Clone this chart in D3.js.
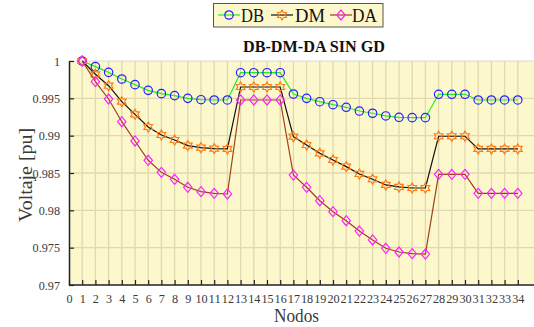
<!DOCTYPE html>
<html><head><meta charset="utf-8">
<script src="https://cdn.jsdelivr.net/npm/d3@7"></script>
<style>body{margin:0;background:#fff}svg{display:block}</style>
</head><body>
<script>
const nodes = d3.range(1, 35);
const xTicks = d3.range(0, 35);
const yTicks = [0.97, 0.975, 0.98, 0.985, 0.99, 0.995, 1];
const seriesNames = ["DB", "DM", "DA"];
const DB = [1, 0.99924, 0.99848, 0.99759, 0.99683, 0.99607, 0.99563, 0.99536, 0.99500, 0.99482, 0.99478, 0.99478,
  0.99843, 0.99843, 0.99843, 0.99843, 0.99558, 0.99500, 0.99455, 0.99415, 0.99380, 0.99330, 0.99300, 0.99264,
  0.99246, 0.99241, 0.99241, 0.99554, 0.99554, 0.99554, 0.99478, 0.99478, 0.99478, 0.99478];
const DM = [1, 0.99822, 0.99669, 0.99455, 0.99286, 0.99116, 0.99009, 0.98942, 0.98866, 0.98839, 0.98826, 0.98822,
  0.99652, 0.99652, 0.99652, 0.99652, 0.98986, 0.98875, 0.98764, 0.98674, 0.98585, 0.98487, 0.98416, 0.98340,
  0.98313, 0.98299, 0.98299, 0.98992, 0.98992, 0.98992, 0.98822, 0.98822, 0.98822, 0.98822];
const DA = [1, 0.99723, 0.99491, 0.99187, 0.98929, 0.98670, 0.98509, 0.98416, 0.98309, 0.98250, 0.98228, 0.98219,
  0.99478, 0.99478, 0.99478, 0.99478, 0.98473, 0.98309, 0.98129, 0.97982, 0.97861, 0.97723, 0.97603, 0.97492,
  0.97442, 0.97420, 0.97415, 0.98482, 0.98482, 0.98482, 0.98228, 0.98228, 0.98228, 0.98228];

const W = 534, H = 327;
const m = {l: 69, t: 61, r: 1, b: 42};
const svg = d3.select("body").append("svg").attr("width", W).attr("height", H);
const x = d3.scaleLinear().domain([0, 35]).range([m.l, 531]);
const y = d3.scaleLinear().domain([0.97, 1]).range([H - m.b, m.t]);
const font = '"Liberation Serif", "Times New Roman", Tinos, "Nimbus Roman", "FreeSerif", "Noto Serif", "DejaVu Serif", serif';
const bg = "#fdf7cc";

// squeeze text to the reference width, whatever font is available
function fit(sel, w) {
  sel.attr("textLength", w).attr("lengthAdjust", "spacingAndGlyphs");
}
const numW = s => s.replace(/\./g, "").length * 6.1 + (s.split(".").length - 1) * 3;

svg.append("rect").attr("x", m.l).attr("y", m.t).attr("width", W - m.l).attr("height", y(0.97) - m.t)
  .attr("fill", bg);
svg.append("line").attr("x1", m.l).attr("x2", W).attr("y1", m.t).attr("y2", m.t).attr("stroke", "#d8d8d8");

// grid
svg.append("g").selectAll("line").data(xTicks.slice(1)).join("line")
  .attr("x1", d => x(d)).attr("x2", d => x(d)).attr("y1", m.t).attr("y2", y(0.97))
  .attr("stroke", "#e0d8b0").attr("stroke-width", 1.3);
svg.append("g").selectAll("line").data(yTicks.slice(1, -1)).join("line")
  .attr("x1", m.l).attr("x2", W).attr("y1", d => y(d)).attr("y2", d => y(d))
  .attr("stroke", "#e0d8b0").attr("stroke-width", 1.3);

// axes
const yFmt = d => String(+d.toFixed(3));
const xAxis = svg.append("g").attr("transform", `translate(0,${y(0.97)})`)
  .call(d3.axisBottom(x).tickValues(xTicks).tickFormat(d3.format("d")).tickSizeInner(-5).tickSizeOuter(0).tickPadding(8));
const yAxis = svg.append("g").attr("transform", `translate(${m.l},0)`)
  .call(d3.axisLeft(y).tickValues(yTicks).tickFormat(yFmt).tickSizeInner(-5).tickSizeOuter(0).tickPadding(9));
[xAxis, yAxis].forEach(a => {
  a.select(".domain").attr("stroke", "#222").attr("stroke-width", 1.5);
  a.selectAll(".tick line").attr("stroke", "#222").attr("stroke-width", 1.2);
  a.selectAll("text").style("font-family", font).style("font-size", "13.5px").attr("fill", "#3a3a3a");
});
xAxis.selectAll("text").each(function(d) { fit(d3.select(this), numW(String(d))); });
yAxis.selectAll("text").each(function(d) { fit(d3.select(this), numW(yFmt(d))); });
xAxis.select(".domain").attr("d", `M${m.l},0H${W}`);

const series = [
  {name: "DB", vals: DB, line: "#22ee22", mark: "#2222ff", sym: "circle"},
  {name: "DM", vals: DM, line: "#111111", mark: "#ff7a10", sym: "hex"},
  {name: "DA", vals: DA, line: "#a0401a", mark: "#ff22ff", sym: "diamond"}
];

function drawMarker(g, sym, cx, cy, color) {
  if (sym === "circle") {
    g.append("circle").attr("cx", cx).attr("cy", cy).attr("r", 4.2)
      .attr("fill", "none").attr("stroke", color).attr("stroke-width", 1.2);
  } else if (sym === "diamond") {
    g.append("path").attr("d", `M${cx},${cy-5}L${cx+4.2},${cy}L${cx},${cy+5}L${cx-4.2},${cy}Z`)
      .attr("fill", "none").attr("stroke", color).attr("stroke-width", 1.2);
  } else {
    const pts = [];
    for (let i = 0; i < 12; i++) {
      const r = i % 2 === 0 ? 5 : 2.9;
      const a = -Math.PI / 2 + i * Math.PI / 6;
      pts.push([cx + r * Math.cos(a), cy + r * Math.sin(a)]);
    }
    g.append("path").attr("d", "M" + pts.map(p => p.join(",")).join("L") + "Z")
      .attr("fill", "none").attr("stroke", color).attr("stroke-width", 1.2);
  }
}

const line = d3.line().x((d, i) => x(nodes[i])).y(d => y(d));
series.forEach(s => {
  const g = svg.append("g");
  g.append("path").attr("d", line(s.vals)).attr("fill", "none").attr("stroke", s.line).attr("stroke-width", 1.2);
  s.vals.forEach((v, i) => drawMarker(g, s.sym, x(nodes[i]), y(v), s.mark));
});

// title & labels
fit(svg.append("text").attr("x", 243).attr("y", 52)
  .style("font-family", font).style("font-weight", "bold").style("font-size", "17px").attr("fill", "#111")
  .text("DB-DM-DA SIN GD"), 142);
fit(svg.append("text").attr("x", 274).attr("y", 322)
  .style("font-family", font).style("font-size", "19px").attr("fill", "#3a3a3a").text("Nodos"), 45);
fit(svg.append("text").attr("transform", "translate(32,222) rotate(-90)")
  .style("font-family", font).style("font-size", "19.5px").attr("fill", "#3a3a3a").text("Voltaje [pu]"), 94);

// legend
const lg = svg.append("g");
lg.append("rect").attr("x", 213.5).attr("y", 3.5).attr("width", 169.5).attr("height", 23.5)
  .attr("fill", bg).attr("stroke", "#555").attr("stroke-width", 1);
const lx = [218, 271, 330];
const tx = [241, 295, 352];
const tw = [23, 30, 25];
series.forEach((s, i) => {
  lg.append("line").attr("x1", lx[i]).attr("x2", lx[i] + 22).attr("y1", 15).attr("y2", 15)
    .attr("stroke", s.line).attr("stroke-width", 1.2);
  drawMarker(lg, s.sym, lx[i] + 11, 15, s.mark);
  fit(lg.append("text").attr("x", tx[i]).attr("y", 22).style("font-family", font).style("font-size", "19px")
    .attr("fill", "#111").text(seriesNames[i]), tw[i]);
});
</script>
</body></html>
